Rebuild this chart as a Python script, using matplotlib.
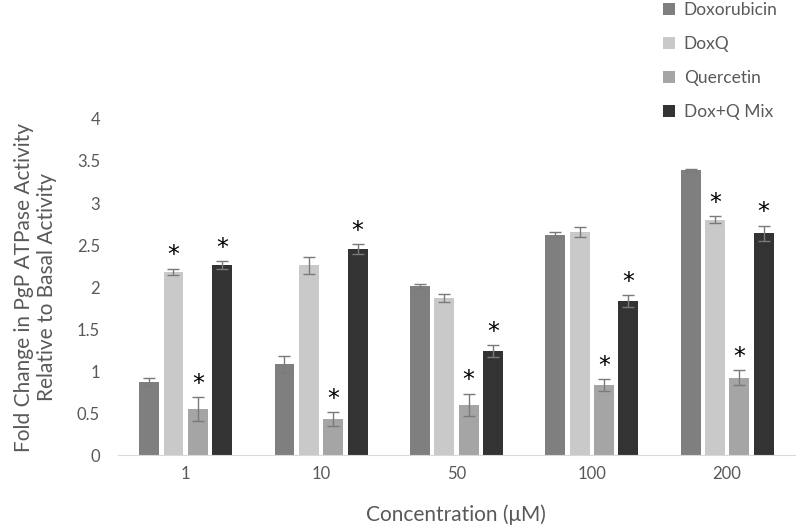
import numpy as np
import matplotlib.pyplot as plt

concentrations = ["1", "10", "50", "100", "200"]
series = ["Doxorubicin", "DoxQ", "Quercetin", "Dox+Q Mix"]

doxorubicin = [0.87, 1.08, 2.01, 2.62, 3.39]
doxq = [2.18, 2.26, 1.87, 2.65, 2.80]
quercetin = [0.55, 0.43, 0.60, 0.83, 0.92]
mix = [2.26, 2.45, 1.24, 1.83, 2.64]

doxorubicin_err = [0.05, 0.10, 0.03, 0.03, 0.02]
doxq_err = [0.04, 0.10, 0.05, 0.06, 0.04]
quercetin_err = [0.14, 0.08, 0.13, 0.07, 0.09]
mix_err = [0.05, 0.06, 0.07, 0.07, 0.09]

# which bars carry a significance star
doxorubicin_sig = [False, False, False, False, False]
doxq_sig = [True, False, False, False, True]
quercetin_sig = [True, True, True, True, True]
mix_sig = [True, True, True, True, True]

colors = ["#7f7f7f", "#c9c9c9", "#a5a5a5", "#333333"]

plt.rcParams['font.family'] = ['Lato', 'DejaVu Sans']

fig = plt.figure(figsize=(8, 5.27), dpi=100)
ax = fig.add_axes([0.1475, 0.1366, 0.846, 0.6376])

x = np.arange(len(concentrations))
width = 0.147
step = 0.18
values = [doxorubicin, doxq, quercetin, mix]
errs = [doxorubicin_err, doxq_err, quercetin_err, mix_err]
sigs = [doxorubicin_sig, doxq_sig, quercetin_sig, mix_sig]

for i in range(4):
    pos = x + (i - 1.5) * step
    ax.bar(pos, values[i], width, color=colors[i], label=series[i],
           yerr=errs[i], ecolor="#7a7a7a", capsize=4,
           error_kw={"elinewidth": 1, "capthick": 1})
    for p, v, e, s in zip(pos, values[i], errs[i], sigs[i]):
        if s:
            ax.annotate("*", (p, v + e), xytext=(0, 1), textcoords="offset points",
                        ha="center", va="bottom", fontsize=17, color="black",
                        family="DejaVu Sans")

ax.set_ylim(0, 4)
ax.set_xlim(-0.5, 4.5)
ax.set_yticks(np.arange(0, 4.01, 0.5))
ax.set_yticklabels(["0", "0.5", "1", "1.5", "2", "2.5", "3", "3.5", "4"])
ax.set_xticks(x)
ax.set_xticklabels(concentrations)
ax.tick_params(axis="both", length=0, labelsize=12, colors="#595959", pad=8)
ax.tick_params(axis="y", pad=13)

for s in ["top", "right", "left"]:
    ax.spines[s].set_visible(False)
ax.spines["bottom"].set_color("#d9d9d9")

ax.set_xlabel("Concentration (μM)", fontsize=15, color="#595959", labelpad=16)
ax.set_ylabel("Fold Change in PgP ATPase Activity\nRelative to Basal Activity",
              fontsize=15, color="#595959", labelpad=14)

ax.legend(loc="upper left", bbox_to_anchor=(0.82, 1.01), bbox_transform=fig.transFigure,
          frameon=False, fontsize=12.5, labelcolor="#595959", handlelength=0.7,
          handleheight=0.7, handletextpad=0.5, labelspacing=1.05, borderaxespad=0)

fig.savefig("out.png", dpi=100)
